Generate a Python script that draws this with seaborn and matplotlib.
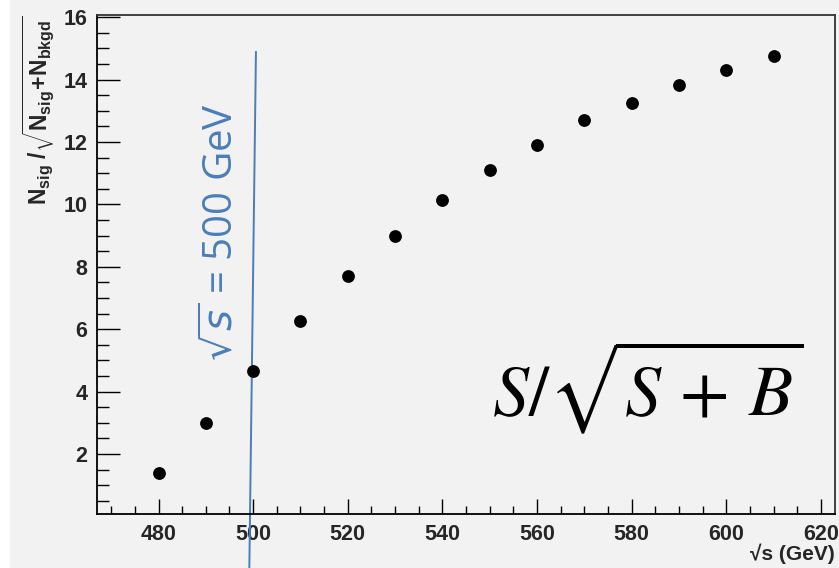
import numpy as np
import pandas as pd
import matplotlib
matplotlib.use("Agg")
import matplotlib.pyplot as plt
import seaborn as sns
from matplotlib.ticker import MultipleLocator
from matplotlib.patches import Rectangle

sqrt_s = [480, 490, 500, 510, 520, 530, 540, 550, 560, 570, 580, 590, 600, 610]
significance = [1.38, 3.00, 4.67, 6.26, 7.71, 8.99, 10.14, 11.11, 11.91, 12.71, 13.26, 13.82, 14.31, 14.75]
x_ticks = [480, 500, 520, 540, 560, 580, 600, 620]
y_ticks = [2, 4, 6, 8, 10, 12, 14, 16]

df = pd.DataFrame({"sqrt_s": sqrt_s, "sig": significance})

sns.set_style("ticks")
plt.rcParams['font.family'] = ['Liberation Sans', 'DejaVu Sans']
plt.rcParams['mathtext.fontset'] = 'custom'
plt.rcParams['mathtext.rm'] = 'Liberation Sans'
plt.rcParams['mathtext.bf'] = 'Liberation Sans:bold'
plt.rcParams['mathtext.it'] = 'Liberation Sans:italic'

bg = "#f2f2f2"
fig = plt.figure(figsize=(8.39, 5.68), dpi=100, facecolor=bg)
fig.patches.append(Rectangle((0, 0), 10/839, 1, transform=fig.transFigure,
                             facecolor="white", edgecolor="none", zorder=0))
ax = fig.add_axes([97/839, 1 - 514/568, (835 - 97)/839, (514 - 15)/568])
ax.set_facecolor(bg)

sns.scatterplot(data=df, x="sqrt_s", y="sig", ax=ax, color="black", s=85,
                edgecolor="black", linewidth=0, zorder=3, legend=False)

ax.set_xlim(467, 623)
ax.set_ylim(0.075, 16.07)
ax.set_xticks(x_ticks)
ax.set_yticks(y_ticks)
ax.xaxis.set_minor_locator(MultipleLocator(5))
ax.yaxis.set_minor_locator(MultipleLocator(0.5))
ax.tick_params(axis='x', which='major', direction='in', length=10.8, width=1.0,
               pad=7, labelsize=15.5, color='black')
ax.tick_params(axis='x', which='minor', direction='in', length=5.8, width=1.0, color='black')
ax.tick_params(axis='y', which='major', direction='in', length=16.5, width=1.0,
               pad=7, labelsize=15.5, color='black')
ax.tick_params(axis='y', which='minor', direction='in', length=8.6, width=1.0, color='black')
for lab in ax.get_xticklabels() + ax.get_yticklabels():
    lab.set_fontweight('bold')

for side in ['left', 'bottom']:
    ax.spines[side].set_color('black')
    ax.spines[side].set_linewidth(1.3)
for side in ['top', 'right']:
    ax.spines[side].set_color('#333333')
    ax.spines[side].set_linewidth(1.3)

ax.set_xlabel('\u221as (GeV)', fontsize=15, fontweight='bold', labelpad=0)
ax.xaxis.set_label_coords(1.0, -0.092)
ax.xaxis.label.set_ha('right')
ax.xaxis.label.set_va('baseline')

ax.set_ylabel(r'$\mathbf{N_{sig}\ /\sqrt{N_{sig}\!+\!N_{bkgd}}}$', fontsize=16.5, fontweight='bold')
ax.yaxis.set_label_coords(-0.054, 1.0)
ax.yaxis.label.set_ha('right')

# vertical marker line at 500 GeV
ax.plot([500.6, 499.2], [14.89, -1.65], color="#4a7ebb", linewidth=1.4,
        clip_on=False, zorder=2)
ax.text(493.5, 9.1, r'$\sqrt{s}$ = 500 GeV', rotation=90, color="#4a7ebb",
        fontsize=29, family='Open Sans', ha='center', va='center',
        math_fontfamily='dejavusans')

ax.text(583.4, 4.15, r'$S/\sqrt{S\,+\,B}$', fontsize=52, color='black', ha='center',
        va='center', math_fontfamily='stix')

fig.savefig("out.png", dpi=100, facecolor=bg)
